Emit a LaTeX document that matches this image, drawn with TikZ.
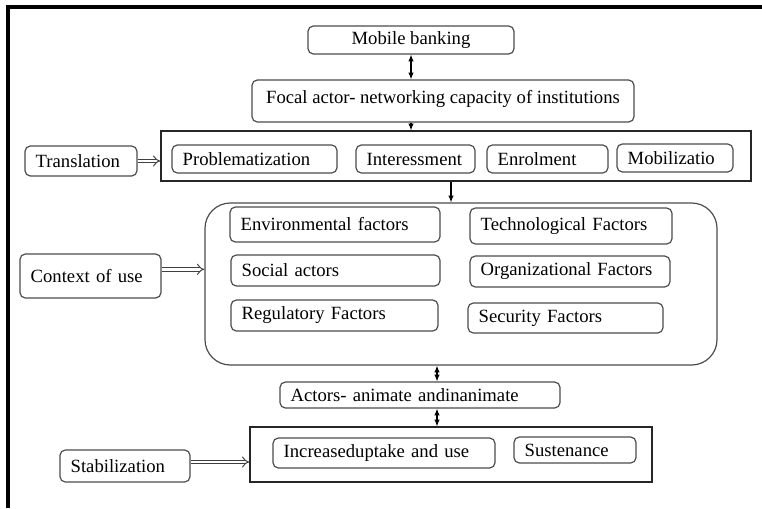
\documentclass[tikz,border=0pt]{standalone}
\usepackage{fontspec}
\setmainfont{Liberation Serif}
\usetikzlibrary{arrows.meta}

\begin{document}
\begin{tikzpicture}[x=0.75pt,y=-0.75pt,
box/.style={draw=black!70, line width=0.9pt, rounded corners=4pt, inner ysep=0pt, inner xsep=8pt, font=\fontsize{14}{16}\selectfont},
lbox/.style={box, text width=#1, align=left},
frame/.style={draw=black!85, line width=0.9pt, inner sep=0pt},
link/.style={line width=0.8pt, {Latex[length=5pt,width=4pt]}-{Latex[length=5pt,width=4pt]}},
feed/.style={line width=0.8pt, -{Latex[length=5pt,width=4pt]}},
stage/.style={draw=black!75, line width=0.7pt, double, double distance=2.2pt, -{Implies}}]
    \useasboundingbox (0,0) rectangle (762,508);
    \draw[line width=2.4pt] (8,508) -- (8,7) -- (762,7);

    \node [box, minimum width=154.5pt, minimum height=21pt] (mobile) at (411,40) {Mobile banking};
    \node [box, minimum width=286.5pt, text height=17.25pt, text depth=14.25pt] (focal) at (443,101) {Focal actor- networking capacity of institutions};

    \node [frame, minimum width=442.5pt, minimum height=37.5pt] (transbox) at (456,156) {};
    \node [lbox=107.75pt, minimum height=21pt] (probl) at (254.5,159) {Problematization};
    \node [lbox=73.25pt, minimum height=21pt] (interess) at (415.5,159) {Interessment};
    \node [lbox=74.75pt, minimum height=21pt] (enrol) at (547.5,159) {Enrolment};
    \node [lbox=71pt, minimum height=21pt] (mobiliz) at (675,158) {Mobilizatio};
    \node [lbox=68pt, minimum height=22.5pt] (transl) at (81,161) {Translation};

    \node [box, rounded corners=19pt, minimum width=384pt, minimum height=121.5pt] (ctxbox) at (461,284) {};
    \node [lbox=141.5pt, minimum height=26.25pt] (env) at (335,224.5) {Environmental factors};
    \node [lbox=135.5pt, minimum height=27pt] (tech) at (571,226) {Technological Factors};
    \node [lbox=140.75pt, minimum height=23.25pt] (social) at (335.5,270.5) {Social actors};
    \node [lbox=134pt, minimum height=23.25pt] (org) at (570,271.5) {Organizational Factors};
    \node [lbox=139.25pt, minimum height=23.25pt] (regul) at (334.5,315.5) {Regulatory Factors};
    \node [lbox=130.25pt, minimum height=22.5pt] (secur) at (565.5,318) {Security Factors};
    \node [lbox=89.75pt, minimum height=33pt] (ctxuse) at (90.5,276) {Context of use};

    \node [lbox=194pt, minimum height=19.5pt] (actors) at (420,395) {Actors- animate andinanimate};

    \node [frame, minimum width=301.5pt, minimum height=41.25pt] (stabbox) at (451,454.5) {};
    \node [lbox=150.5pt, minimum height=22.5pt] (uptake) at (384,453) {Increaseduptake and use};
    \node [lbox=75.5pt, minimum height=19.5pt] (susten) at (575,450) {Sustenance};
    \node [lbox=81.5pt, minimum height=24pt] (stabil) at (125,466) {Stabilization};

    \coordinate (down) at (451,0);
    \coordinate (mid) at (437,0);

    \draw[link] (mobile.south) -- (mobile.south |- focal.north);
    \draw[feed] (focal.south -| mobile) -- (transbox.north -| mobile);
    \draw[feed] (transbox.south -| down) -- (ctxbox.north -| down);
    \draw[link] (ctxbox.south -| mid) -- (actors.north -| mid);
    \draw[link] (actors.south -| mid) -- (stabbox.north -| mid);

    \draw[stage] (transl.east) -- (transl.east -| transbox.west);
    \draw[stage] ([yshift=5pt]ctxuse.east) -- ([yshift=5pt]ctxuse.east -| ctxbox.west);
    \draw[stage] ([yshift=3pt]stabil.east) -- ([yshift=3pt]stabil.east -| stabbox.west);
\end{tikzpicture}
\end{document}
